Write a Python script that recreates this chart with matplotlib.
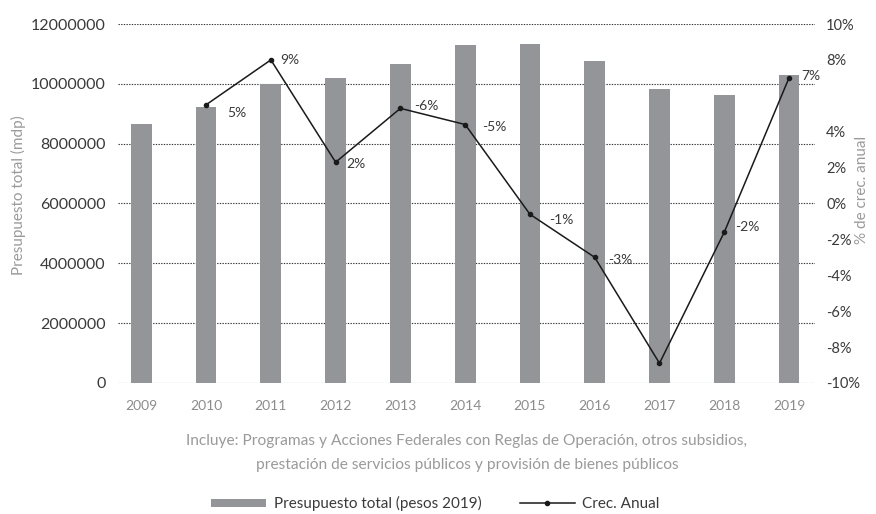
import numpy as np
import matplotlib.pyplot as plt
from matplotlib.patches import Patch
from matplotlib.lines import Line2D

plt.rcParams['font.family'] = ['Lato', 'DejaVu Sans']

# %% data
years = ["2009", "2010", "2011", "2012", "2013", "2014", "2015", "2016", "2017", "2018", "2019"]
presupuesto = [8660000, 9230000, 10000000, 10200000, 10670000, 11300000,
               11340000, 10770000, 9830000, 9630000, 10300000]
crec_years = ["2010", "2011", "2012", "2013", "2014", "2015", "2016", "2017", "2018", "2019"]
crec = [5.5, 8.0, 2.3, 5.3, 4.4, -0.6, -3.0, -8.9, -1.6, 7.0]
crec_labels = ["5%", "9%", "2%", "-6%", "-5%", "-1%", "-3%", "", "-2%", "7%"]
left_ticks = [0, 2000000, 4000000, 6000000, 8000000, 10000000, 12000000]
right_ticks = [-10, -8, -6, -4, -2, 0, 2, 4, 8, 10]

caption = ("Incluye: Programas y Acciones Federales con Reglas de Operación, otros subsidios,\n"
           "prestación de servicios públicos y provisión de bienes públicos")

# label offsets in points (dx, dy)
label_offsets = [(15, -6), (7, 0), (8, -1), (10, 2), (12, -2), (14, -4), (10, -2), (0, 0), (8, 4), (9, 1)]

bar_color = "#939598"
dark = "#3a3a3a"
grey = "#8c8c8c"

# %% plot
fig = plt.figure(figsize=(8.76, 5.14), dpi=100)
ax = fig.add_axes([0.1347, 0.2549, 0.7956, 0.6984])
ax2 = ax.twinx()

x = np.arange(len(years))
ax.bar(x, presupuesto, width=0.32, color=bar_color, zorder=2)
ax.set_ylim(0, 12000000)
ax.set_xlim(-0.36, len(years) - 1 + 0.4)
ax.set_yticks(left_ticks)
ax.set_yticklabels([str(t) for t in left_ticks])
ax.set_xticks(x)
ax.set_xticklabels(years)
ax.grid(axis="y", linestyle=(0, (1.2, 1.2)), color="#333333", linewidth=0.8, zorder=0)
ax.set_axisbelow(True)
ax.tick_params(axis="y", length=0, pad=9, labelsize=11.5, labelcolor=dark)
ax.tick_params(axis="x", length=0, pad=12, labelsize=10, labelcolor=grey)

xc = [years.index(y) for y in crec_years]
ax2.plot(xc, crec, color="#1a1a1a", linewidth=1.1, marker="o", markersize=3, zorder=3)
for xi, v, lab, off in zip(xc, crec, crec_labels, label_offsets):
    if lab:
        ax2.annotate(lab, (xi, v), xytext=off, textcoords="offset points",
                     ha="left", va="center", fontsize=10, color=dark)
ax2.set_ylim(-10, 10)
ax2.set_yticks(right_ticks)
ax2.set_yticklabels([f"{t}%" for t in right_ticks])
ax2.tick_params(axis="y", length=0, pad=8, labelsize=10.5, labelcolor=dark)

for a in (ax, ax2):
    for s in a.spines.values():
        s.set_visible(False)

fig.text(18 / 876, 1 - 195 / 514, "Presupuesto total (mdp)", rotation=90,
         ha="center", va="center", color="#9a9a9a", fontsize=11)
fig.text(862 / 876, 1 - 190 / 514, "% de crec. anual", rotation=90,
         ha="center", va="center", color="#9a9a9a", fontsize=11)

fig.text(0.533, 1 - 453 / 514, caption, ha="center", va="center", fontsize=11.2,
         color="#9a9a9a", linespacing=2.0)

handles = [Patch(facecolor=bar_color, edgecolor="none", label="Presupuesto total (pesos 2019)"),
           Line2D([0], [0], color="#1a1a1a", linewidth=1.1, marker="o", markersize=3,
                  label="Crec. Anual")]
leg = fig.legend(handles=handles, loc="center", bbox_to_anchor=(0.497, 0.02), ncol=2,
                 frameon=False, fontsize=11, handlelength=3.6, handleheight=0.45,
                 columnspacing=2.5, handletextpad=0.5)
for t in leg.get_texts():
    t.set_color(dark)

fig.savefig("out.png", dpi=100)
